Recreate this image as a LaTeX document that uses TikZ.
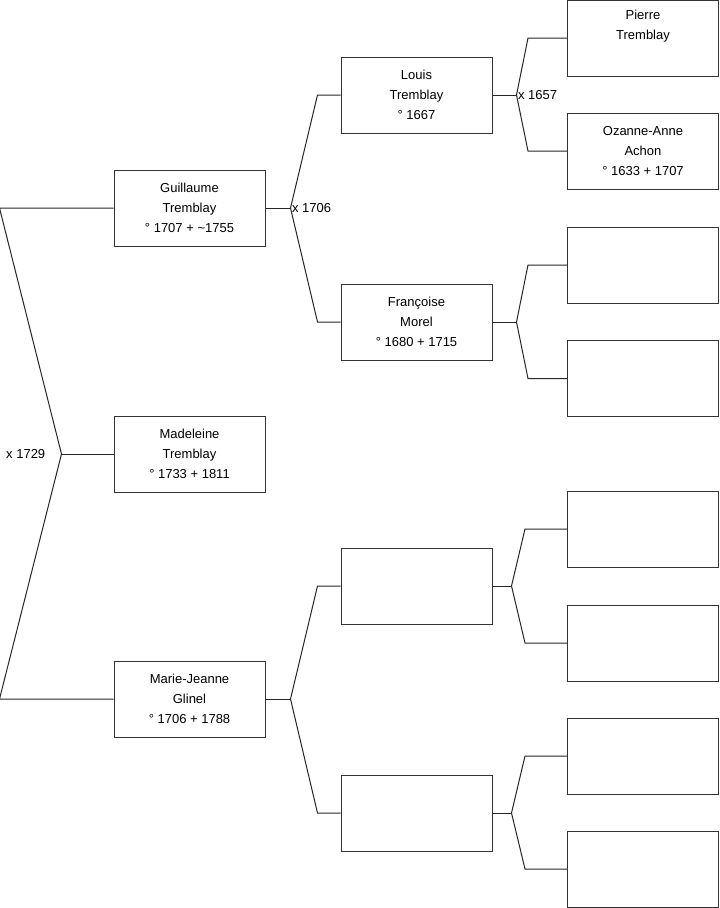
\documentclass[tikz,border=0pt]{standalone}
\usepackage{fontspec}
\setmainfont{Liberation Sans}
\usepackage{tikz}
\usetikzlibrary{positioning}

\begin{document}
\begin{tikzpicture}[
    x=0.75pt, y=-0.75pt,
    person/.style={rectangle, draw=black!80, line width=0.75pt, minimum width=113.25pt, minimum height=57pt, inner sep=0pt, align=center, font=\fontsize{9.75pt}{15pt}\selectfont},
    marriage/.style={inner sep=1pt, font=\fontsize{9.75pt}{15pt}\selectfont},
    link/.style={draw=black!85, line width=0.75pt},
]
\useasboundingbox (0,0) rectangle (719,908);

% Generation 1
\node[person] (guillaume) at (189.5,208) {Guillaume\\Tremblay\\° 1707 + \textasciitilde1755};
\node[person] (madeleine) at (189.5,454) {Madeleine\\Tremblay\\° 1733 + 1811};
\node[person] (marie) at (189.5,699) {Marie-Jeanne\\Glinel\\° 1706 + 1788};

% Generation 2
\node[person] (louis) at (416.5,95) {Louis\\Tremblay\\° 1667};
\node[person] (francoise) at (416.5,322) {Françoise\\Morel\\° 1680 + 1715};
\node[person] (gmpere) at (416.5,586) {};
\node[person] (gmmere) at (416.5,813) {};

% Generation 3
\node[person] (pierre) at (643,38) {Pierre\\Tremblay\\\strut};
\node[person] (ozanne) at (643,151) {Ozanne-Anne\\Achon\\° 1633 + 1707};
\node[person] (fmpere) at (643,265) {};
\node[person] (fmmere) at (643,378.5) {};
\node[person] (mppere) at (643,529) {};
\node[person] (mpmere) at (643,643) {};
\node[person] (mmpere) at (643,756) {};
\node[person] (mmmere) at (643,869) {};

% Junctions
\coordinate (j1729) at ([xshift=-39pt]madeleine.west);
\coordinate (j1706) at ([xshift=18.75pt]guillaume.east);
\coordinate (jmarie) at ([xshift=18.75pt]marie.east);
\coordinate (j1657) at ([xshift=18pt]louis.east);
\coordinate (jfran) at ([xshift=18pt]francoise.east);
\coordinate (jgmp) at ([xshift=14.25pt]gmpere.east);
\coordinate (jgmm) at ([xshift=14.25pt]gmmere.east);

% Marriage labels
\node[marriage, left=11pt of j1729] (m1729) {x 1729};
\node[marriage, anchor=west] (m1706) at (j1706) {x 1706};
\node[marriage, anchor=west] (m1657) at (j1657) {x 1657};

% Links
\draw[link] (madeleine.west) -- (j1729);
\draw[link] (guillaume.west) -- ([xshift=-85.5pt]guillaume.west) -- (j1729) -- ([xshift=-85.5pt]marie.west) -- (marie.west);

\draw[link] (guillaume.east) -- (j1706);
\draw[link] (louis.west) -- ([xshift=-17.25pt]louis.west) -- (j1706) -- ([xshift=-17.25pt]francoise.west) -- (francoise.west);
\draw[link] (marie.east) -- (jmarie);
\draw[link] (gmpere.west) -- ([xshift=-17.25pt]gmpere.west) -- (jmarie) -- ([xshift=-17.25pt]gmmere.west) -- (gmmere.west);

\draw[link] (louis.east) -- (j1657);
\draw[link] (pierre.west) -- ([xshift=-29.25pt]pierre.west) -- (j1657) -- ([xshift=-29.25pt]ozanne.west) -- (ozanne.west);
\draw[link] (francoise.east) -- (jfran);
\draw[link] (fmpere.west) -- ([xshift=-29.25pt]fmpere.west) -- (jfran) -- ([xshift=-29.25pt]fmmere.west) -- (fmmere.west);
\draw[link] (gmpere.east) -- (jgmp);
\draw[link] (mppere.west) -- ([xshift=-31.5pt]mppere.west) -- (jgmp) -- ([xshift=-31.5pt]mpmere.west) -- (mpmere.west);
\draw[link] (gmmere.east) -- (jgmm);
\draw[link] (mmpere.west) -- ([xshift=-31.5pt]mmpere.west) -- (jgmm) -- ([xshift=-31.5pt]mmmere.west) -- (mmmere.west);

\end{tikzpicture}
\end{document}
